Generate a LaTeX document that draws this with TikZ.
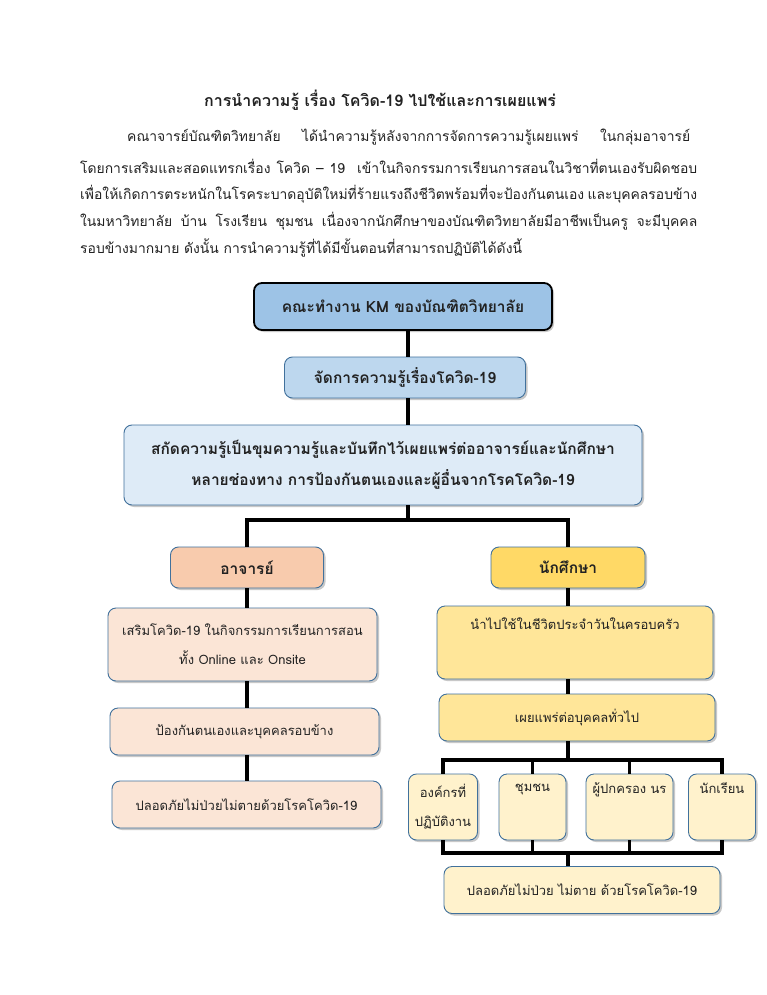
\documentclass[tikz,border=0pt]{standalone}
\usepackage{fontspec}
\newfontfamily\thaifont[Script=Thai]{Loma}
\usetikzlibrary{shadows}

\definecolor{kmblue}{HTML}{9DC3E6}
\definecolor{midblue}{HTML}{BDD7EE}
\definecolor{paleblue}{HTML}{DEEBF7}
\definecolor{rimblue}{HTML}{41719C}
\definecolor{peach}{HTML}{F8CBAD}
\definecolor{palepeach}{HTML}{FBE5D6}
\definecolor{gold}{HTML}{FFD966}
\definecolor{palegold}{HTML}{FFE699}
\definecolor{cream}{HTML}{FFF2CC}
\definecolor{ink}{HTML}{222222}

\newcommand{\textline}[2]{\makebox[#1][s]{#2}}

\begin{document}
\begin{tikzpicture}[x=1pt,y=-1pt,
  box/.style={draw=rimblue,line width=0.9pt,rounded corners=8pt,align=center,
    text=ink,inner sep=2pt,font=\thaifont\fontsize{13}{29}\selectfont,
    drop shadow={shadow xshift=2pt,shadow yshift=-2pt,opacity=0.3,fill=black!70}},
  headbox/.style={box,font=\thaifont\bfseries\fontsize{15.5}{31}\selectfont},
  link/.style={draw=black,line width=3.5pt},
  para/.style={anchor=west,inner sep=0pt,text=ink,font=\thaifont\fontsize{13.9}{17}\selectfont}]

\fill[white] (0,0) rectangle (766,995);
\useasboundingbox (0,0) rectangle (766,995);

% title and text
\node[font=\thaifont\bfseries\fontsize{16}{19}\selectfont,text=ink] (title) at (380,100) {การนำความรู้ เรื่อง โควิด-19 ไปใช้และการเผยแพร่};

\node[para] (line1) at (127,137) {\textline{563pt}{คณาจารย์บัณฑิตวิทยาลัย ได้นำความรู้หลังจากการจัดการความรู้เผยแพร่ ในกลุ่มอาจารย์}};
\node[para] (line2) at (80,166) {\textline{617pt}{โดยการเสริมและสอดแทรกเรื่อง โควิด – 19 \ เข้าในกิจกรรมการเรียนการสอนในวิชาที่ตนเองรับผิดชอบ}};
\node[para] (line3) at (80,194) {\textline{617pt}{เพื่อให้เกิดการตระหนักในโรคระบาดอุบัติใหม่ที่ร้ายแรงถึงชีวิตพร้อมที่จะป้องกันตนเอง และบุคคลรอบข้าง}};
\node[para] (line4) at (80,221) {\textline{617pt}{ในมหาวิทยาลัย บ้าน โรงเรียน ชุมชน เนื่องจากนักศึกษาของบัณฑิตวิทยาลัยมีอาชีพเป็นครู จะมีบุคคล}};
\node[para] (line5) at (80,248) {รอบข้างมากมาย ดังนั้น การนำความรู้ที่ได้มีขั้นตอนที่สามารถปฏิบัติได้ดังนี้};

% top of the chart
\node[headbox,draw=black,line width=1.8pt,fill=kmblue,minimum width=298pt,minimum height=47pt] (km) at (403,306.5) {คณะทำงาน KM ของบัณฑิตวิทยาลัย};
\node[headbox,fill=midblue,minimum width=241pt,minimum height=41pt] (manage) at (405,377.5) {จัดการความรู้เรื่องโควิด-19};
\node[headbox,fill=paleblue,minimum width=518pt,minimum height=80pt] (extract) at (383,465) {สกัดความรู้เป็นขุมความรู้และบันทึกไว้เผยแพร่ต่ออาจารย์และนักศึกษา\\หลายช่องทาง การป้องกันตนเองและผู้อื่นจากโรคโควิด-19};

\node[headbox,fill=peach,minimum width=153pt,minimum height=41pt] (teacher) at (247,567.5) {อาจารย์};
\node[headbox,fill=gold,minimum width=154pt,minimum height=41pt] (student) at (568,567.5) {นักศึกษา};

% teachers
\node[box,fill=palepeach,minimum width=269pt,minimum height=73pt] (addin) at (242.5,644.5) {เสริมโควิด-19 ในกิจกรรมการเรียนการสอน\\ทั้ง Online และ Onsite};
\node[box,fill=palepeach,minimum width=269pt,minimum height=47pt] (protect) at (244.5,731.5) {ป้องกันตนเองและบุคคลรอบข้าง};
\node[box,fill=palepeach,minimum width=269pt,minimum height=47pt] (safeL) at (246.5,804.5) {ปลอดภัยไม่ป่วยไม่ตายด้วยโรคโควิด-19};

% students
\node[box,fill=palegold,minimum width=276pt,minimum height=73pt] (daily) at (575,642.5) {นำไปใช้ในชีวิตประจำวันในครอบครัว\\\strut};
\node[box,fill=palegold,minimum width=276pt,minimum height=47pt] (spread) at (577,717.5) {เผยแพร่ต่อบุคคลทั่วไป};

\node[box,fill=cream,minimum width=69pt,minimum height=66pt] (org) at (443,807) {องค์กรที่\\ปฏิบัติงาน};
\node[box,fill=cream,minimum width=67pt,minimum height=66pt] (community) at (532.5,807) {ชุมชน\\\strut};
\node[box,fill=cream,minimum width=87pt,minimum height=66pt] (parents) at (629.5,807) {ผู้ปกครอง นร\\\strut};
\node[box,fill=cream,minimum width=67pt,minimum height=66pt] (pupils) at (722,807) {นักเรียน\\\strut};

\node[box,fill=cream,minimum width=276pt,minimum height=47pt] (safeR) at (582,890) {ปลอดภัยไม่ป่วย ไม่ตาย ด้วยโรคโควิด-19};

% connectors
\coordinate (spine) at (408,0);
\coordinate (split) at (408,520);
\coordinate (fan) at (568,760);
\coordinate (merge) at (568,853);

\draw[link] (km.south -| spine) -- (manage.north -| spine);
\draw[link] (manage.south -| spine) -- (extract.north -| spine);
\draw[link] (extract.south -| spine) -- (split);
\draw[link] (split) -| (teacher.north);
\draw[link] (split) -| (student.north);

\draw[link] (teacher.south) -- (teacher.south |- addin.north);
\draw[link] (teacher.south |- addin.south) -- (teacher.south |- protect.north);
\draw[link] (teacher.south |- protect.south) -- (teacher.south |- safeL.north);

\draw[link] (student.south) -- (student.south |- daily.north);
\draw[link] (student.south |- daily.south) -- (student.south |- spread.north);
\draw[link] (student.south |- spread.south) -- (fan);
\draw[link] (fan) -| (org.north);
\draw[link] (fan) -| (community.north);
\draw[link] (fan) -| (parents.north);
\draw[link] (fan) -| (pupils.north);

\draw[link] (org.south) |- (merge);
\draw[link] (community.south) |- (merge);
\draw[link] (parents.south) |- (merge);
\draw[link] (pupils.south) |- (merge);
\draw[link] (merge) -- (merge |- safeR.north);

\end{tikzpicture}
\end{document}
